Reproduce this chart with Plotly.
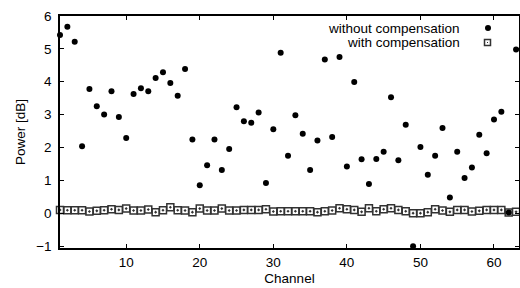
import plotly.graph_objects as go

channels = list(range(1, 64))

without_comp = [
    5.42, 5.67, 5.22, 2.04, 3.78, 3.25, 3.00, 3.71, 2.93, 2.29,
    3.63, 3.80, 3.71, 4.11, 4.29, 3.96, 3.57, 4.39, 2.24, 0.85,
    1.46, 2.24, 1.31, 1.95, 3.22, 2.80, 2.75, 3.06, 0.92, 2.55,
    4.88, 1.75, 2.98, 2.42, 1.31, 2.21, 4.68, 2.32, 4.75, 1.42,
    3.99, 1.64, 0.89, 1.65, 1.87, 3.53, 1.61, 2.69, -1.01, 2.01,
    1.17, 1.75, 2.59, 0.48, 1.87, 1.07, 1.39, 2.39, 1.82, 2.85,
    3.09, 0.02, 4.98,
]

with_comp = [
    0.10, 0.09, 0.09, 0.09, 0.05, 0.07, 0.09, 0.12, 0.10, 0.14,
    0.08, 0.08, 0.11, 0.03, 0.09, 0.18, 0.09, 0.08, 0.03, 0.14,
    0.08, 0.08, 0.14, 0.08, 0.08, 0.10, 0.10, 0.10, 0.12, 0.05,
    0.06, 0.06, 0.06, 0.06, 0.06, 0.03, 0.06, 0.08, 0.15, 0.12,
    0.10, 0.04, 0.15, 0.06, 0.12, 0.15, 0.10, 0.06, 0.00, 0.00,
    0.03, 0.12, 0.08, 0.04, 0.10, 0.10, 0.05, 0.07, 0.10, 0.10,
    0.10, 0.02, 0.04,
]

x_ticks = [10, 20, 30, 40, 50, 60]
y_ticks = [-1, 0, 1, 2, 3, 4, 5, 6]
series_names = ["without compensation", "with compensation"]

FONT = "Liberation Sans, Arial, sans-serif"
FS = 13.5

fig = go.Figure()
fig.add_trace(go.Scatter(
    x=channels, y=with_comp, mode="markers", name=series_names[1],
    marker=dict(symbol="square-open-dot", size=7, color="#333333",
                line=dict(width=1.5, color="#333333")),
    cliponaxis=False,
))
fig.add_trace(go.Scatter(
    x=channels, y=without_comp, mode="markers", name=series_names[0],
    marker=dict(symbol="circle", size=6, color="black", line=dict(width=0)),
    cliponaxis=False,
))

axis_common = dict(
    showline=True, linecolor="black", linewidth=1.5, mirror="ticks",
    ticks="inside", ticklen=4, tickwidth=1, tickcolor="black",
    showgrid=False, zeroline=False,
    tickfont=dict(family=FONT, size=FS, color="black"),
)

fig.update_xaxes(range=[1, 63.4], tickvals=x_ticks, ticklabelstandoff=1,
                 title=dict(text="Channel", font=dict(family=FONT, size=FS, color="black"), standoff=5),
                 **axis_common)
fig.update_yaxes(range=[-1.06, 6], tickvals=y_ticks, ticklabelstandoff=4,
                 title=dict(text="Power [dB]", font=dict(family=FONT, size=FS, color="black"), standoff=7),
                 **axis_common)

# legend (text right-aligned, marker to the right, as in the reference)
fig.add_annotation(x=1, y=1, xref="paper", yref="paper", xanchor="right", yanchor="middle",
                   xshift=-57, yshift=-12, text=series_names[0], showarrow=False,
                   font=dict(family=FONT, size=FS, color="black"))
fig.add_annotation(x=1, y=1, xref="paper", yref="paper", xanchor="right", yanchor="middle",
                   xshift=-57, yshift=-26, text=series_names[1], showarrow=False,
                   font=dict(family=FONT, size=FS, color="black"))
fig.add_shape(type="circle", xref="paper", yref="paper", xsizemode="pixel", ysizemode="pixel",
              xanchor=1, yanchor=1, x0=-34, x1=-28, y0=-15, y1=-9,
              fillcolor="black", line=dict(width=0))
fig.add_shape(type="rect", xref="paper", yref="paper", xsizemode="pixel", ysizemode="pixel",
              xanchor=1, yanchor=1, x0=-34.5, x1=-28.5, y0=-29.5, y1=-23.5,
              fillcolor="white", line=dict(width=1.5, color="#333333"))
fig.add_shape(type="rect", xref="paper", yref="paper", xsizemode="pixel", ysizemode="pixel",
              xanchor=1, yanchor=1, x0=-32, x1=-31, y0=-27, y1=-26,
              fillcolor="#333333", line=dict(width=0))

fig.update_layout(
    width=520, height=288,
    margin=dict(l=60, r=1, t=16, b=40, autoexpand=False),
    paper_bgcolor="white", plot_bgcolor="white",
    showlegend=False,
    font=dict(family=FONT, size=FS, color="black"),
)

fig.write_html("out.html", config={"displayModeBar": False},
               post_script="document.body.style.margin='0';document.body.style.overflow='hidden';")
